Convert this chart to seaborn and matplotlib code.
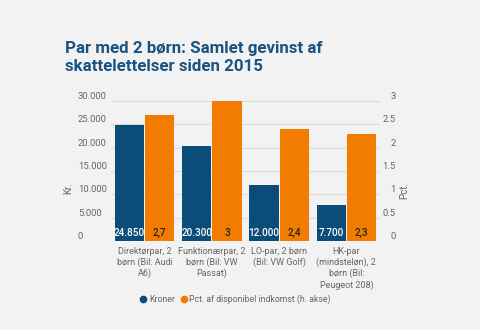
import matplotlib
matplotlib.use("Agg")
import matplotlib.pyplot as plt
import seaborn as sns
import pandas as pd
from matplotlib.lines import Line2D

categories = [
    "Direktørpar, 2\nbørn (Bil: Audi\nA6)",
    "Funktionærpar, 2\nbørn (Bil: VW\nPassat)",
    "LO-par, 2 børn\n(Bil: VW Golf)",
    "HK-par\n(mindsteløn), 2\nbørn (Bil:\nPeugeot 208)",
]
kroner = [24850, 20300, 12000, 7700]
pct = [2.7, 3.0, 2.4, 2.3]
kroner_labels = ["24.850", "20.300", "12.000", "7.700"]
pct_labels = ["2,7", "3", "2,4", "2,3"]
left_ticks = [0, 5000, 10000, 15000, 20000, 25000, 30000]
left_ticklabels = ["0", "5.000", "10.000", "15.000", "20.000", "25.000", "30.000"]
right_ticks = [0, 0.5, 1, 1.5, 2, 2.5, 3]
right_ticklabels = ["0", "0.5", "1", "1.5", "2", "2.5", "3"]
series = ["Kroner", "Pct. af disponibel indkomst (h. akse)"]

BG = "#f2f2f2"
BLUE = "#0b4d78"
ORANGE = "#f27c00"
TITLE_C = "#1a5280"
TXT = "#666666"

sns.set_theme(style="white")
plt.rcParams["font.family"] = ["Roboto", "DejaVu Sans"]

df_k = pd.DataFrame({"cat": categories, "value": kroner, "series": series[0]})
df_p = pd.DataFrame({"cat": categories, "value": pct, "series": series[1]})

fig = plt.figure(figsize=(4.8, 3.3), dpi=100, facecolor=BG)
ax = fig.add_axes([111 / 480, 1 - 241 / 330, (380 - 111) / 480, 140 / 330])
ax.set_facecolor(BG)
ax2 = ax.twinx()

palette = {series[0]: BLUE, series[1]: ORANGE}
sns.barplot(data=df_k, x="cat", y="value", hue="series", hue_order=series,
            order=categories, palette=palette, ax=ax, width=0.9, gap=0.04,
            dodge=True, legend=False, linewidth=0, saturation=1)
sns.barplot(data=df_p, x="cat", y="value", hue="series", hue_order=series,
            order=categories, palette=palette, ax=ax2, width=0.9, gap=0.04,
            dodge=True, legend=False, linewidth=0, saturation=1)

ax.set_xlim(-0.5, 3.5)
ax.set_ylim(0, 30000)
ax2.set_ylim(0, 3)

ax.set_yticks(left_ticks)
ax.set_yticklabels(left_ticklabels)
ax2.set_yticks(right_ticks)
ax2.set_yticklabels(right_ticklabels)

ax.yaxis.grid(True, color="#dddddd", linewidth=0.8)
ax.set_axisbelow(True)
for a in (ax, ax2):
    for s in a.spines.values():
        s.set_visible(False)
    a.set_xlabel("")
    a.set_ylabel("")

ax.tick_params(axis="y", length=0, pad=23.8, labelsize=6.8, labelcolor=TXT)
for lab in ax.get_yticklabels():
    lab.set_ha("left")
    lab.set_va("bottom")
ax2.tick_params(axis="y", length=0, pad=11.5, labelsize=6.8, labelcolor=TXT)
for lab in ax2.get_yticklabels():
    lab.set_ha("right")
    lab.set_va("bottom")

ax.tick_params(axis="x", length=0, pad=4, labelsize=6.5, labelcolor=TXT)
for lab in ax.get_xticklabels():
    lab.set_ha("center")
    lab.set_linespacing(1.25)

# value labels
def bars_of(a):
    return sorted([p for p in a.patches if p.get_height() > 0],
                  key=lambda p: p.get_x())

for a, labels, col in ((ax, kroner_labels, "white"),
                       (ax2, pct_labels, "#222222")):
    for bar, t in zip(bars_of(a), labels):
        x = bar.get_x() + bar.get_width() / 2
        a.annotate(t, xy=(x, 0), xytext=(0, 2.2), textcoords="offset points",
                   ha="center", va="bottom", fontsize=7.2, color=col, zorder=5,
                   fontweight="medium")

fig.text(68 / 480, 1 - 188 / 330, "Kr.", rotation=90, ha="center", va="center",
         fontsize=7, color=TXT)
fig.text(404 / 480, 1 - 190 / 330, "Pct.", rotation=90, ha="center", va="center",
         fontsize=7, color=TXT)

fig.text(65 / 480, 1 - 57.5 / 330, "Par med 2 børn: Samlet gevinst af\nskattelettelser siden 2015",
         ha="left", va="center", fontsize=12.2, fontweight="bold", color=TITLE_C,
         linespacing=1.3)

handles = [Line2D([], [], marker="o", linestyle="", markersize=4.5, color=BLUE),
           Line2D([], [], marker="o", linestyle="", markersize=4.5, color=ORANGE)]
fig.legend(handles, series, loc="center", bbox_to_anchor=(235 / 480, 1 - 299 / 330),
           ncol=2, frameon=False, fontsize=6.3, labelcolor=TXT, handletextpad=0.15,
           columnspacing=0.5, handlelength=1.0)

fig.savefig("out.png", dpi=100, facecolor=BG)
